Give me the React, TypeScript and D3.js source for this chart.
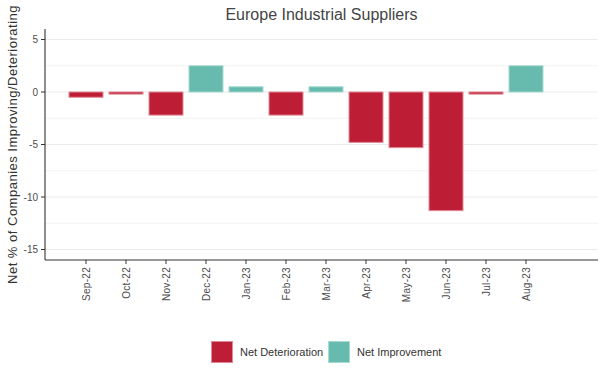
import React from "react";
import * as d3 from "d3";

const months = ["Sep-22","Oct-22","Nov-22","Dec-22","Jan-23","Feb-23","Mar-23","Apr-23","May-23","Jun-23","Jul-23","Aug-23"];
const netValues = [-0.5,-0.2,-2.2,2.5,0.5,-2.2,0.5,-4.8,-5.3,-11.3,-0.2,2.5];
const yMajorTicks = [5,0,-5,-10,-15];
const yMinorTicks = [2.5,-2.5,-7.5,-12.5];
const legendLabels = ["Net Deterioration","Net Improvement"];
const colors = ["#BE1E35","#67BBAE"];
const strokes = ["#E08A97","#A9DAD2"];

const W = 605, H = 378;
const left = 45, right = 598, top = 29, bottom = 260;

export default function App() {
  const x = d3.scaleLinear().domain([-1.025, 12.8]).range([left, right]);
  const y = d3.scaleLinear().domain([-16, 6]).range([bottom, top]);
  const bw = 34;
  const font = "Liberation Sans, Arial, sans-serif";
  return (
    <svg width={W} height={H} style={{position:"absolute",left:0,top:0,background:"#fff"}} fontFamily={font}>
      <rect x={0} y={0} width={W} height={H} fill="#fff"/>
      {yMinorTicks.map(t => (
        <line key={"mi"+t} x1={left} x2={right} y1={y(t)} y2={y(t)} stroke="#f3f3f3" strokeWidth={1}/>
      ))}
      {yMajorTicks.map(t => (
        <line key={"ma"+t} x1={left} x2={right} y1={y(t)} y2={y(t)} stroke="#ebebeb" strokeWidth={1.2}/>
      ))}
      {netValues.map((v, i) => {
        const c = v < 0 ? 0 : 1;
        const y0 = y(Math.max(0, v)), y1 = y(Math.min(0, v));
        return (
          <rect key={i} x={x(i) - bw/2} y={y0} width={bw} height={y1 - y0}
            fill={colors[c]} stroke={strokes[c]} strokeWidth={1}/>
        );
      })}
      <line x1={left} x2={left} y1={top} y2={bottom} stroke="#333" strokeWidth={1.1}/>
      <line x1={left} x2={right} y1={bottom} y2={bottom} stroke="#333" strokeWidth={1.1}/>
      {yMajorTicks.map(t => (
        <g key={"yt"+t}>
          <line x1={left-4} x2={left} y1={y(t)} y2={y(t)} stroke="#333"/>
          <text x={left-7} y={y(t)} dy="0.35em" textAnchor="end" fontSize={10} fill="#4d4d4d">{t}</text>
        </g>
      ))}
      {months.map((m, i) => (
        <g key={m}>
          <line x1={x(i)} x2={x(i)} y1={bottom} y2={bottom+4} stroke="#333"/>
          <text transform={`translate(${x(i)+3.5},${bottom+7}) rotate(-90)`} textAnchor="end" fontSize={10} fill="#4d4d4d" letterSpacing={0.3}>{m}</text>
        </g>
      ))}
      <text x={(left+right)/2} y={20} textAnchor="middle" fontSize={16} fill="#444">Europe Industrial Suppliers</text>
      <text transform={`translate(17,144.5) rotate(-90)`} textAnchor="middle" fontSize={13} letterSpacing={0.5} fill="#333">Net % of Companies Improving/Deteriorating</text>
      <g>
        <rect x={211.5} y={341.5} width={21} height={21} fill={colors[0]} stroke={strokes[0]}/>
        <text x={240} y={352} dy="0.35em" fontSize={11} fill="#333">{legendLabels[0]}</text>
        <rect x={328.5} y={341.5} width={21} height={21} fill={colors[1]} stroke={strokes[1]}/>
        <text x={357} y={352} dy="0.35em" fontSize={11} fill="#333">{legendLabels[1]}</text>
      </g>
    </svg>
  );
}
